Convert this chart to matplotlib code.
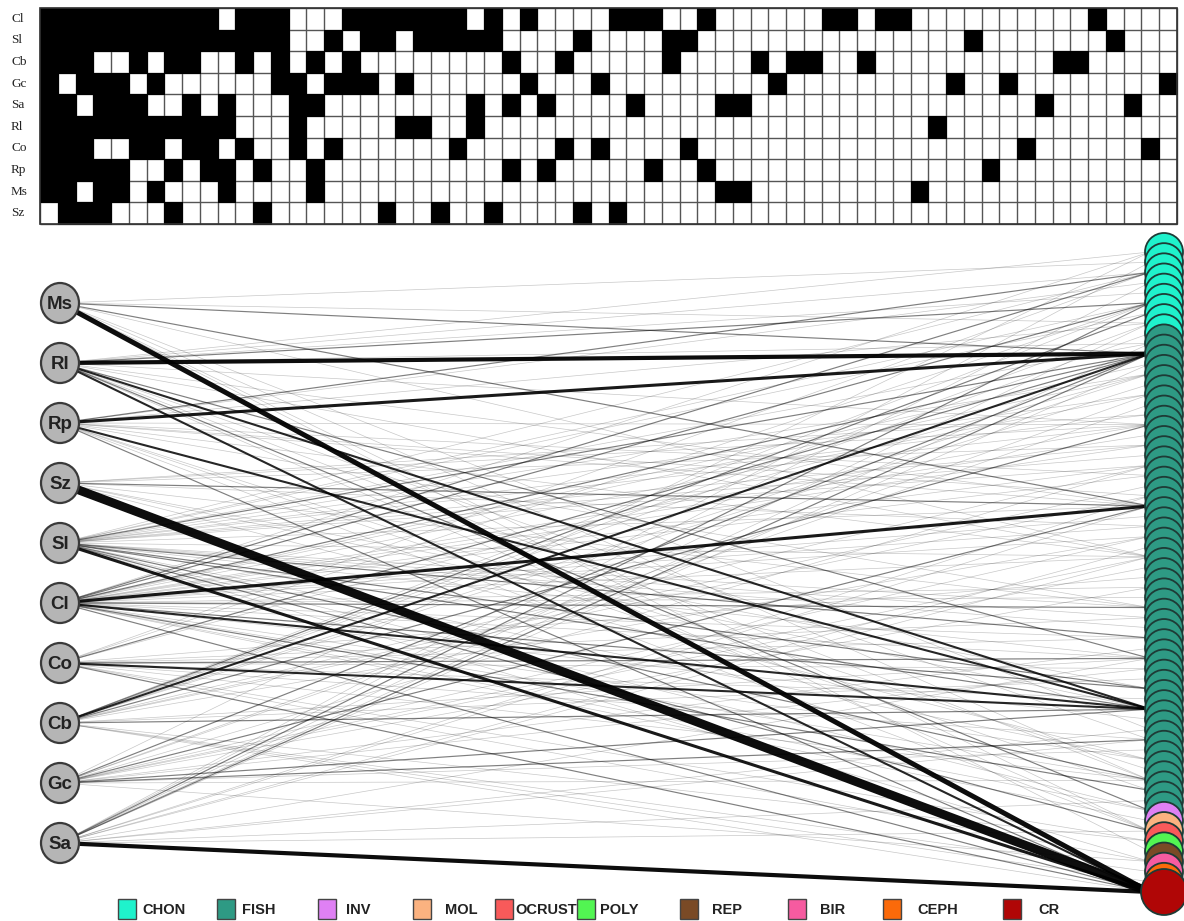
import numpy as np
import matplotlib
matplotlib.use("Agg")
import matplotlib.pyplot as plt
from matplotlib.patches import Ellipse, Circle, Rectangle
from matplotlib.collections import LineCollection

# predators, in the row order of the incidence matrix
matrix_rows = ["Cl", "Sl", "Cb", "Gc", "Sa", "Rl", "Co", "Rp", "Ms", "Sz"]

# diet links per predator, one char per prey column (64 prey)
# 0 = no link, 1..9 = link strength (drawn as line weight in the network)
links = {
    "Cl": "2234121112012100 0112111101010000 1120010000001101 1000000000010000",
    "Sl": "2421112111211100 1012011211000010 0001100000000000 0000100000001000",
    "Cb": "3120010210010101 0100000000100100 0002000010110010 0000000001100000",
    "Gc": "2022101000000120 1110100000010001 0000000001000000 0001001000000001",
    "Sa": "2501120010100011 0000000010101000 0100001100000000 0000000010000100",
    "Rl": "5331121121100010 0000120010000000 0000000000000000 0010000000000000",
    "Co": "2230011021010010 1000000100000101 0000100000000000 0000000100000010",
    "Rp": "4231100102101001 0000000000101000 0010010000000000 0000010000000000",
    "Ms": "2602101000100001 0000000000000000 0000001100000000 0100000000000000",
    "Sz": "0912000100001000 0001001001000010 1000000000000000 0000000000000000",
}

# predator nodes, top to bottom in the network panel
left_nodes = ["Ms", "Rl", "Rp", "Sz", "Sl", "Cl", "Co", "Cb", "Gc", "Sa"]

# prey groups, top to bottom in the network panel
group_names = ["CHON", "FISH", "INV", "MOL", "OCRUST", "POLY", "REP", "BIR", "CEPH", "CR"]
group_counts = [9, 47, 1, 1, 1, 1, 1, 1, 1, 1]
group_colors = ["#1ff2cc", "#2e9a84", "#df80f4", "#fbb280", "#f85a5a",
                "#52f552", "#7a4a26", "#f65ba0", "#fb6a0a", "#b00606"]

# which network node (top->bottom index) each matrix column is
prey_node = [10, 63, 45, 25,
             30, 5, 52, 17, 40, 2, 57, 12, 35, 21, 48, 7, 60, 28, 14, 43,
             0, 55, 19, 38, 9, 50, 24, 33, 3, 58, 16, 41, 27, 11, 53, 6,
             36, 22, 47, 1, 61, 31, 13, 42, 18, 56, 8, 34, 26, 59, 4, 39,
             20, 51, 15, 44, 29, 62, 23, 46, 37, 54, 32, 49]

W = np.array([[int(ch) for ch in links[p].replace(" ", "")] for p in matrix_rows])
n_prey = W.shape[1]

fig = plt.figure(figsize=(11.84, 9.21), dpi=100)
ax = fig.add_axes([0, 0, 1, 1])
ax.set_xlim(0, 1184)
ax.set_ylim(921, 0)
ax.axis("off")

# ---- incidence matrix ----
mx0, mx1, my0, my1 = 40, 1177, 8, 224
xe = np.linspace(mx0, mx1, n_prey + 1)
ye = np.linspace(my0, my1, len(matrix_rows) + 1)
ax.vlines(xe, my0, my1, color="#555555", lw=1.0)
ax.hlines(ye, mx0, mx1, color="#555555", lw=1.0)
filled = np.ma.masked_equal((W > 0).astype(float), 0)
ax.pcolormesh(xe, ye, filled, cmap="gray_r", vmin=0, vmax=1,
              edgecolors="face", linewidth=0.6, zorder=2)
ax.add_patch(Rectangle((mx0, my0), mx1 - mx0, my1 - my0, fill=False,
                       ec="#333333", lw=1.2, zorder=3))
for i, name in enumerate(matrix_rows):
    ax.text(11, (ye[i] + ye[i + 1]) / 2, name, ha="left", va="center",
            fontsize=9.5, family="Liberation Serif", color="#222222")

# ---- network ----
left_x = 60
left_y = np.linspace(303, 843, len(left_nodes))
right_x = 1164
right_y = np.linspace(252, 892, n_prey)

node_colors = []
for col, cnt in zip(group_colors, group_counts):
    node_colors += [col] * cnt

lw_map = [0, 0.5, 0.85, 1.5, 2.2, 3.0, 3.6, 4.3, 5.2, 6.3]
alpha_map = [0, 0.22, 0.5, 0.85, 0.9, 0.95, 0.95, 0.95, 0.95, 0.95]

edges = []
for r, pred in enumerate(matrix_rows):
    yl = left_y[left_nodes.index(pred)]
    for c in range(n_prey):
        w = W[r, c]
        if w > 0:
            edges.append((w, [(left_x, yl), (right_x - 14, right_y[prey_node[c]])]))

for w in sorted(set(e[0] for e in edges)):
    segs = [e[1] for e in edges if e[0] == w]
    lc = LineCollection(segs, colors="black", linewidths=lw_map[w],
                        alpha=alpha_map[w], capstyle="butt")
    ax.add_collection(lc)

for i, (y, col) in enumerate(zip(right_y, node_colors)):
    r = 23 if i == n_prey - 1 else 19
    ax.add_patch(Circle((right_x, y), r, fc=col, ec="#1e3b36", lw=1.3, zorder=3))

for name, y in zip(left_nodes, left_y):
    ax.add_patch(Ellipse((left_x, y), 38, 40, fc="#b5b5b5", ec="#3a3a3a",
                         lw=1.6, zorder=3))
    ax.text(left_x, y + 1, name, ha="center", va="center", fontsize=13.5,
            fontweight="bold", family="Liberation Sans", color="#222222",
            zorder=4)

# ---- legend ----
leg_box_x = [118, 217, 318, 413, 495, 577, 680, 788, 883, 1003]
leg_text_x = [142, 242, 346, 445, 515, 600, 712, 820, 917, 1038]
leg_y = 909
for bx, tx, name, col in zip(leg_box_x, leg_text_x, group_names, group_colors):
    ax.add_patch(Rectangle((bx, leg_y - 10), 18, 20, fc=col, ec="#444444", lw=1.0))
    ax.text(tx, leg_y + 1, name, ha="left", va="center", fontsize=10.5,
            fontweight="bold", family="Liberation Sans", color="#222222")

fig.savefig("out.png", dpi=100)
